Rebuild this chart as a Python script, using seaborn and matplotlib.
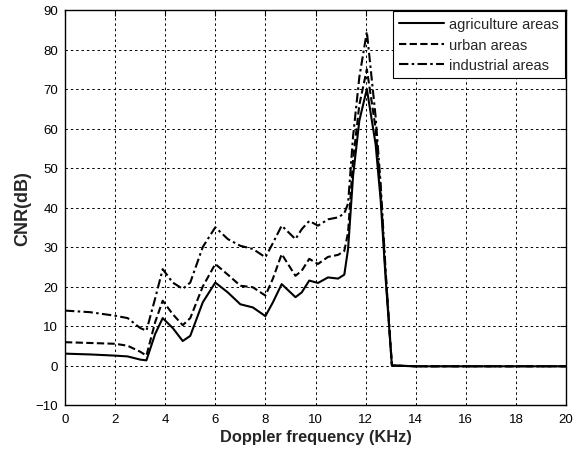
import numpy as np
import pandas as pd
import matplotlib
matplotlib.use("Agg")
import matplotlib.pyplot as plt
import seaborn as sns

freq = [0, 1, 2, 2.5, 3, 3.25, 3.6, 3.9, 4.3, 4.7, 5.0, 5.5, 6.0, 6.5, 7.0, 7.5,
        8.0, 8.3, 8.65, 9.2, 9.45, 9.75, 10.1, 10.5, 10.9, 11.15, 11.3, 11.5,
        11.75, 12.05, 12.4, 12.6, 12.8, 13.05, 14, 16, 18, 20]

agriculture = [3.0, 2.8, 2.5, 2.3, 1.5, 1.3, 8, 12, 9.5, 6.2, 7.5, 16, 21, 18.5,
               15.5, 14.7, 12.5, 16, 20.6, 17.3, 18.5, 21.5, 20.9, 22.3, 22, 23,
               29.5, 48, 62, 70, 56, 42, 22, 0, -0.2, -0.2, -0.2, -0.2]

urban = [5.9, 5.7, 5.5, 5.0, 3.5, 2.5, 11, 16.4, 13, 10.2, 12, 20, 25.7, 23,
         20.2, 19.8, 17.7, 22, 28.2, 22.7, 24, 27, 25.7, 27.5, 28, 29, 33.7,
         52, 66, 75, 60, 44, 23, 0, -0.2, -0.2, -0.2, -0.2]

industrial = [13.9, 13.5, 12.6, 12.0, 9.5, 8.8, 17, 24.4, 21, 19.4, 21, 30, 35,
              32, 30.3, 29.5, 27.4, 31, 35.4, 32, 34.5, 36.6, 35.4, 37, 37.5,
              38.5, 41, 58, 73, 84.5, 63, 46, 24, 0, -0.2, -0.2, -0.2, -0.2]

series_names = ["agriculture areas", "urban areas", "industrial areas"]
x_ticks = list(range(0, 21, 2))
y_ticks = list(range(-10, 91, 10))

df = pd.concat([
    pd.DataFrame({"freq": freq, "cnr": vals, "area": name})
    for name, vals in zip(series_names, [agriculture, urban, industrial])
], ignore_index=True)

sns.set_style("white")
plt.rcParams["font.family"] = ["Liberation Sans", "DejaVu Sans"]

fig = plt.figure(figsize=(5.88, 4.56), dpi=100)
ax = fig.add_axes([65 / 588, 1 - 406 / 456, (566 - 65) / 588, (406 - 11) / 456])

dashes = {"agriculture areas": "", "urban areas": (3.5, 1.6),
          "industrial areas": (4.5, 1.6, 1.2, 1.6)}
sns.lineplot(data=df, x="freq", y="cnr", style="area", dashes=dashes,
             style_order=series_names, color="black", linewidth=1.5,
             sort=False, ax=ax, legend=True)

ax.set_xlim(0, 20)
ax.set_ylim(-10, 90)
ax.set_xticks(x_ticks)
ax.set_yticks(y_ticks)
ax.tick_params(direction="in", length=4, width=0.8, labelsize=9.5,
               colors="black", top=True, right=True)
ax.tick_params(axis="x", pad=6)
ax.tick_params(axis="y", pad=5)
ax.grid(True, color="black", linestyle=(0, (2.5, 3)), linewidth=0.7)
for s in ax.spines.values():
    s.set_color("black")
    s.set_linewidth(1.0)

ax.set_xlabel("Doppler frequency (KHz)", fontsize=11.8, fontweight="bold", labelpad=3)
ax.set_ylabel("CNR(dB)", fontsize=13, fontweight="bold", labelpad=3)

leg = ax.legend(loc="upper right", borderaxespad=0.1, fancybox=False,
                framealpha=1, edgecolor="black", fontsize=10.5, title=None,
                handlelength=3.1, handletextpad=0.35, borderpad=0.4,
                labelspacing=0.45)
leg.get_frame().set_linewidth(0.8)

fig.savefig("out.png", dpi=100, facecolor="white")
